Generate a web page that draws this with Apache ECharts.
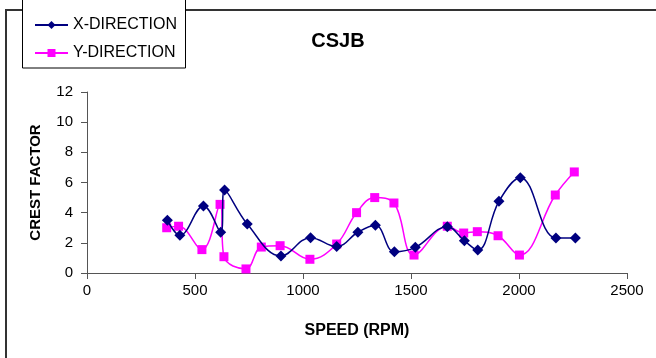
<!DOCTYPE html>
<html><head><meta charset="utf-8">
<script src="https://cdn.jsdelivr.net/npm/echarts@6/dist/echarts.min.js"></script>
<style>html,body{margin:0;padding:0;background:#fff}#c{width:656px;height:358px}</style>
</head><body><div id="c"></div>
<script>
var title = 'CSJB';
var xTitle = 'SPEED (RPM)';
var yTitle = 'CREST FACTOR';
var seriesNames = ['X-DIRECTION', 'Y-DIRECTION'];
var xSpeed = [372, 430, 539, 619, 637, 742, 898, 1035, 1156, 1254, 1335, 1423, 1520, 1668, 1747, 1809, 1907, 2006, 2171, 2261];
var xValues = [3.5, 2.5, 4.44, 2.7, 5.5, 3.25, 1.13, 2.34, 1.75, 2.7, 3.16, 1.41, 1.7, 3.07, 2.14, 1.52, 4.75, 6.32, 2.32, 2.32];
var ySpeed = [369, 424, 532, 616, 634, 736, 807, 894, 1032, 1156, 1248, 1332, 1421, 1514, 1668, 1744, 1807, 1903, 2002, 2168, 2256];
var yValues = [3.0, 3.1, 1.55, 4.55, 1.08, 0.27, 1.72, 1.81, 0.91, 1.92, 4.0, 5.0, 4.64, 1.19, 3.1, 2.65, 2.74, 2.47, 1.19, 5.17, 6.7];

function pairs(xs, ys){ return xs.map(function(x,i){ return [x, ys[i]]; }); }

var chart = echarts.init(document.getElementById('c'), null, {renderer:'canvas'});
var font = 'Liberation Sans, Arial, sans-serif';
chart.setOption({
  animation: false,
  textStyle: {fontFamily: font},
  title: {text: title, left: 333, top: 26, textAlign: 'center',
    textStyle: {fontSize: 20, fontWeight: 'bold', color: '#000', fontFamily: font}},
  legend: {
    orient: 'vertical', left: 29, top: 12, itemWidth: 33, itemHeight: 10, itemGap: 12,
    textStyle: {fontSize: 16, color: '#000', fontFamily: font},
    data: seriesNames
  },
  graphic: [
    {type: 'rect', shape: {x: 6, y: 10, width: 700, height: 400}, style: {fill: 'none', stroke: '#333', lineWidth: 2}, z: -1},
    {type: 'rect', shape: {x: 22.5, y: -5, width: 163, height: 73}, style: {fill: '#fff', stroke: '#000', lineWidth: 1}, z: 0}
  ],
  grid: {left: 87, right: 29, top: 92, bottom: 85, containLabel: false},
  xAxis: {
    type: 'value', min: 0, max: 2500, interval: 500,
    name: xTitle, nameLocation: 'middle', nameGap: 50,
    nameTextStyle: {fontSize: 16, fontWeight: 'bold', color: '#000', fontFamily: font},
    axisLine: {show: true, lineStyle: {color: '#555', width: 1}},
    axisTick: {show: true, inside: false, length: 6, lineStyle: {color: '#555'}},
    axisLabel: {fontSize: 15, color: '#000', margin: 10, fontFamily: font,
      formatter: function(v){ return String(v); }},
    splitLine: {show: false}
  },
  yAxis: {
    type: 'value', min: 0, max: 12, interval: 2,
    name: yTitle, nameLocation: 'middle', nameGap: 44, nameRotate: 90,
    nameTextStyle: {fontSize: 15, fontWeight: 'bold', color: '#000', fontFamily: font},
    axisLine: {show: true, lineStyle: {color: '#555', width: 1}},
    axisTick: {show: true, inside: false, length: 6, lineStyle: {color: '#555'}},
    axisLabel: {fontSize: 15, color: '#000', margin: 14, fontFamily: font},
    splitLine: {show: false}
  },
  series: [
    {name: seriesNames[0], type: 'line', data: pairs(xSpeed, xValues), smooth: 0.4,
      symbol: 'diamond', symbolSize: 11,
      lineStyle: {color: '#000080', width: 1.5}, itemStyle: {color: '#000080'}, z: 3},
    {name: seriesNames[1], type: 'line', data: pairs(ySpeed, yValues), smooth: 0.4,
      symbol: 'rect', symbolSize: 9,
      lineStyle: {color: '#FF00FF', width: 1.5}, itemStyle: {color: '#FF00FF'}, z: 2}
  ]
});
</script></body></html>
